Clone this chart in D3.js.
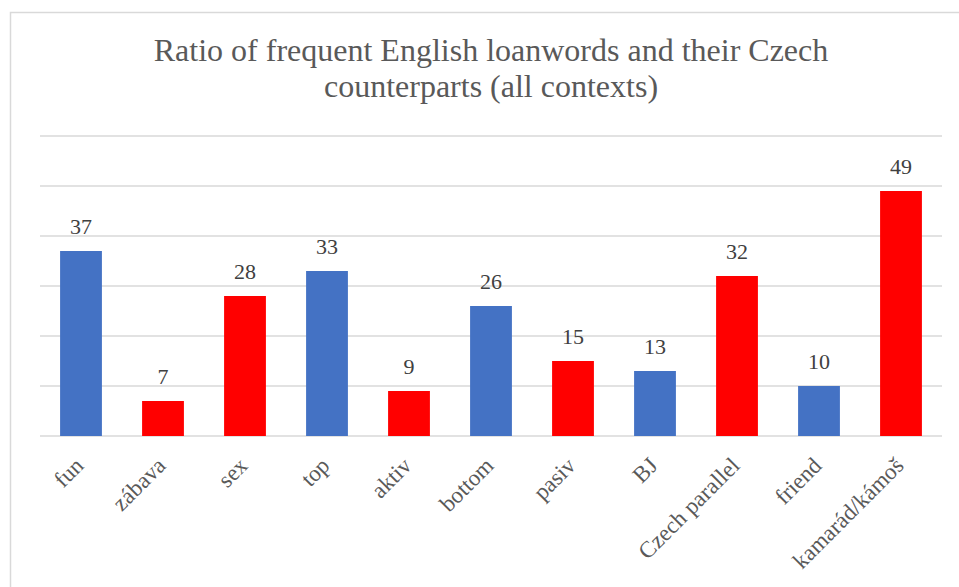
<!DOCTYPE html>
<html><head><meta charset="utf-8">
<script src="https://cdn.jsdelivr.net/npm/d3@7"></script>
<style>html,body{margin:0;padding:0;background:#fff;}svg{display:block;}</style>
</head><body>
<svg id="chart" width="959" height="587"></svg>
<script>
const categories = ["fun","zábava","sex","top","aktiv","bottom","pasiv","BJ","Czech parallel","friend","kamarád/kámoš"];
const values = [37,7,28,33,9,26,15,13,32,10,49];
const groups = ["en","cz","cz","en","cz","en","cz","en","cz","en","cz"];
const yTicks = [0,10,20,30,40,50,60];
const titleLines = ["Ratio of frequent English loanwords and their Czech","counterparts (all contexts)"];

const colorOf = {en:"#4472C4", cz:"#FF0000"};
const svg = d3.select("#chart");
const serif = "'Liberation Serif','Times New Roman',serif";

// chart border
svg.append("rect").attr("x",10.5).attr("y",12.5).attr("width",960).attr("height",600)
  .attr("fill","#fff").attr("stroke","#d9d9d9").attr("stroke-width",1.5);

const x = d3.scaleBand().domain(categories).range([40,942]).paddingInner(0.49).paddingOuter(0.245);
const y = d3.scaleLinear().domain([0,60]).range([436,136]);

// gridlines
svg.append("g").selectAll("line").data(yTicks).join("line")
  .attr("x1",40).attr("x2",942)
  .attr("y1",d=>y(d)).attr("y2",d=>y(d))
  .attr("stroke","#d9d9d9").attr("stroke-width",1.5);

// title
svg.append("text").attr("x",491).attr("y",61).attr("text-anchor","middle")
  .attr("font-family",serif).attr("font-size",32).attr("fill","#595959")
  .selectAll("tspan").data(titleLines).join("tspan")
  .attr("x",491).attr("dy",(d,i)=>i===0?0:36).text(d=>d);

// bars
svg.append("g").selectAll("rect").data(categories).join("rect")
  .attr("x",d=>x(d)).attr("width",x.bandwidth())
  .attr("y",(d,i)=>y(values[i])).attr("height",(d,i)=>y(0)-y(values[i]))
  .attr("fill",(d,i)=>colorOf[groups[i]]);

// data labels
svg.append("g").selectAll("text").data(categories).join("text")
  .attr("x",d=>x(d)+x.bandwidth()/2).attr("y",(d,i)=>y(values[i])-17)
  .attr("text-anchor","middle").attr("font-family",serif).attr("font-size",22)
  .attr("fill","#404040").text((d,i)=>values[i]);

// x axis labels
const xAxis = d3.axisBottom(x).tickSize(0).tickPadding(0);
const gx = svg.append("g").attr("transform","translate(0,436)").call(xAxis);
gx.select(".domain").remove();
gx.selectAll("text")
  .attr("font-family",serif).attr("font-size",23).attr("fill","#595959")
  .attr("text-anchor","end").attr("dy",0).attr("y",0).attr("x",0)
  .attr("transform","translate(4,31) rotate(-45)");
</script>
</body></html>
